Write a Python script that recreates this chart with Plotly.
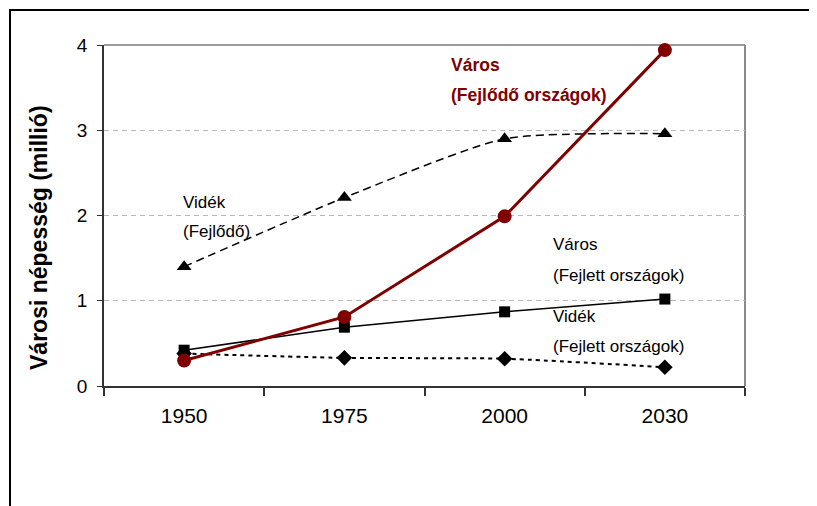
import plotly.graph_objects as go

years = ["1950", "1975", "2000", "2030"]
varos_fejlodo = [0.30, 0.81, 1.99, 3.94]
videk_fejlodo = [1.40, 2.21, 2.90, 2.96]
varos_fejlett = [0.42, 0.69, 0.87, 1.02]
videk_fejlett = [0.38, 0.33, 0.32, 0.22]
y_ticks = [0, 1, 2, 3, 4]

# page has an 8px body margin; work in screen coordinates and convert
OFF = 8
W, H = 817 - OFF, 506 - OFF
L, R, T, B = 104 - OFF, 745 - OFF, 45 - OFF, 386 - OFF

def px(x):
    return (x - OFF - L) / (R - L)

def py(y):
    return (B - (y - OFF)) / (B - T)

FONT = "Arial, Liberation Sans, sans-serif"
RED = "#800000"

fig = go.Figure()

fig.add_trace(go.Scatter(
    x=years, y=videk_fejlodo, mode="lines+markers",
    line=dict(color="black", width=1.5, dash="8px,5px", shape="spline", smoothing=0.6),
    marker=dict(symbol="triangle-up", size=13, color="black"),
    showlegend=False, cliponaxis=False))
fig.add_trace(go.Scatter(
    x=years, y=videk_fejlett, mode="lines+markers",
    line=dict(color="black", width=2, dash="4px,4px", shape="spline", smoothing=0.6),
    marker=dict(symbol="diamond", size=12, color="black"),
    showlegend=False, cliponaxis=False))
fig.add_trace(go.Scatter(
    x=years, y=varos_fejlett, mode="lines+markers",
    line=dict(color="black", width=1.5),
    marker=dict(symbol="square", size=11, color="black"),
    showlegend=False, cliponaxis=False))
fig.add_trace(go.Scatter(
    x=years, y=varos_fejlodo, mode="lines+markers",
    line=dict(color=RED, width=3),
    marker=dict(symbol="circle", size=14, color=RED),
    showlegend=False, cliponaxis=False))

labels = [
    ("Város", 449, 65, True),
    ("(Fejlődő országok)", 449, 95, True),
    ("Vidék", 181, 202, False),
    ("(Fejlődő)", 181, 232, False),
    ("Város", 551, 245, False),
    ("(Fejlett országok)", 551, 275, False),
    ("Vidék", 551, 316, False),
    ("(Fejlett országok)", 551, 346, False),
]
annotations = []
for text, x, y, bold in labels:
    annotations.append(dict(
        text=f"<b>{text}</b>" if bold else text,
        x=px(x), y=py(y), xref="paper", yref="paper",
        xanchor="left", yanchor="middle", showarrow=False,
        font=dict(family=FONT, size=17.5 if bold else 17, color=RED if bold else "black")))
annotations.append(dict(
    text="<b>Városi népesség (millió)</b>", textangle=-90,
    x=px(39), y=py(238), xref="paper", yref="paper",
    xanchor="center", yanchor="middle", showarrow=False,
    font=dict(family=FONT, size=23, color="black")))

shapes = [
    dict(type="line", xref="paper", yref="paper", x0=0, x1=1, y0=1, y1=1,
         line=dict(color="#9a9a9a", width=2), layer="between"),
    dict(type="line", xref="paper", yref="paper", x0=1, x1=1, y0=0, y1=1,
         line=dict(color="#8a8a8a", width=2), layer="between"),
    dict(type="rect", xref="paper", yref="paper", x0=px(10), x1=px(840),
         y0=py(530), y1=py(10), line=dict(color="black", width=2), layer="below"),
]

fig.update_layout(
    width=W, height=H,
    margin=dict(l=L, r=W - R, t=T, b=H - B, pad=0),
    paper_bgcolor="white", plot_bgcolor="white",
    font=dict(family=FONT, color="black"),
    annotations=annotations, shapes=shapes,
    xaxis=dict(type="category", range=[-0.5, 3.5], showgrid=False,
               showline=True, linecolor="#333333", linewidth=2,
               ticks="outside", tickson="boundaries", ticklen=8,
               tickcolor="#333333", tickwidth=1.5,
               tickfont=dict(family=FONT, size=21), ticklabelstandoff=10,
               fixedrange=True),
    yaxis=dict(range=[0, 4], tickvals=y_ticks, ticktext=[str(v) for v in y_ticks],
               showgrid=True, gridcolor="#b8b8b8", griddash="5px,4px", gridwidth=1,
               showline=True, linecolor="#333333", linewidth=1.5,
               ticks="outside", ticklen=5, tickcolor="#333333",
               tickfont=dict(family=FONT, size=19), ticklabelstandoff=6,
               zeroline=False, fixedrange=True),
)

fig.write_html("out.html")
